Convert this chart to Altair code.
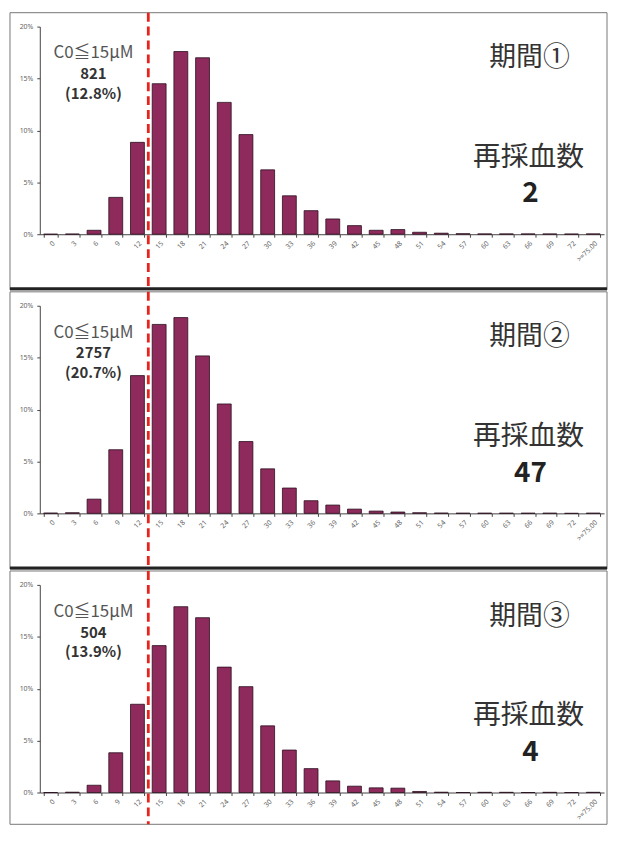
import altair as alt
import pandas as pd

# ---- data ----
categories = ["0", "3", "6", "9", "12", "15", "18", "21", "24", "27", "30", "33", "36",
              "39", "42", "45", "48", "51", "54", "57", "60", "63", "66", "69", "72", ">=75.00"]

period1 = [0, 0.02, 0.38, 3.55, 8.85, 14.5, 17.6, 17.0, 12.7, 9.6, 6.2, 3.7, 2.27,
           1.47, 0.83, 0.38, 0.45, 0.19, 0.1, 0.05, 0.03, 0.03, 0.03, 0.03, 0.02, 0.03]
period2 = [0.03, 0.06, 1.37, 6.13, 13.27, 18.2, 18.86, 15.17, 10.54, 6.92, 4.29, 2.44, 1.22,
           0.8, 0.41, 0.22, 0.13, 0.06, 0.03, 0.02, 0.02, 0.02, 0.02, 0.02, 0.0, 0.02]
period3 = [0, 0.03, 0.7, 3.83, 8.5, 14.15, 17.9, 16.84, 12.08, 10.2, 6.42, 4.09, 2.3,
           1.12, 0.61, 0.45, 0.42, 0.1, 0.03, 0, 0.02, 0.02, 0, 0.02, 0, 0.02]

period_titles = ["期間①", "期間②", "期間③"]
low_counts = ["821", "2757", "504"]
low_pcts = ["(12.8%)", "(20.7%)", "(13.9%)"]
redraw_counts = ["2", "47", "4"]
threshold_label = "C0≦15μM"
redraw_label = "再採血数"
cutoff_category = "15"

# ---- layout ----
W = 568
H = 209
PI = 0.36
STEP = W / len(categories)
BAR_FILL = "#8e2a5c"
CJK = "Noto Sans CJK JP"


def x_enc():
    return alt.X("cat:N", sort=categories,
                 scale=alt.Scale(paddingInner=PI, paddingOuter=PI / 2),
                 axis=alt.Axis(title=None, labelAngle=-45, labelFontSize=7, labelColor="#666",
                               tickBand="extent", tickSize=3, tickColor="#444",
                               domainColor="#444", labelPadding=2, labelFont="Noto Sans"))


def panel(values, title, count, pct, redraw, bottom, thick):
    df = pd.DataFrame({"cat": categories, "pct": values})
    base = alt.Chart(df)

    y = alt.Y("pct:Q", scale=alt.Scale(domain=[0, 20]),
              axis=alt.Axis(title=None, values=[0, 5, 10, 15, 20],
                            labelExpr="datum.value + '%'", labelFontSize=7,
                            labelColor="#666", grid=False, tickSize=3, tickColor="#444",
                            domainColor="#444", labelPadding=4, labelFont="Noto Sans"))

    border = alt.Chart(pd.DataFrame({"b": [0]})).mark_rect(
        fill="transparent", stroke="#777", strokeWidth=1
    ).encode(x=alt.value(-30), x2=alt.value(W + 3), y=alt.value(-14), y2=alt.value(H + bottom))

    bars = base.mark_bar(color=BAR_FILL, stroke="#2b1020", strokeWidth=0.8).encode(x=x_enc(), y=y)

    layers = [border, bars]

    if thick:
        layers.append(
            alt.Chart(pd.DataFrame({"b": [0]})).mark_rule(color="#222", strokeWidth=3).encode(
                x=alt.value(-30), x2=alt.value(W + 3), y=alt.value(H + bottom - 1))
        )

    cutoff = alt.Chart(pd.DataFrame({"cat": [cutoff_category]})).mark_rule(
        color="#e8231e", strokeWidth=2.8, strokeDash=[9, 5], xOffset=-STEP * PI / 2
    ).encode(x=alt.X("cat:N", sort=categories, bandPosition=0),
             y=alt.value(-14), y2=alt.value(H + bottom))
    layers.append(cutoff)

    def txt(s, xp, yp, size, weight="normal", color="#444", font=CJK):
        return alt.Chart(pd.DataFrame({"t": [s]})).mark_text(
            fontSize=size, fontWeight=weight, color=color, font=font, align="center",
            baseline="middle"
        ).encode(x=alt.value(xp), y=alt.value(yp), text="t:N")

    layers += [
        txt(threshold_label, 54, 27, 17, color="#555"),
        txt(count, 54, 48, 15, "bold", "#333"),
        txt(pct, 54, 68, 15, "bold", "#333"),
        txt(title, 493, 32, 27, color="#333"),
        txt(redraw_label, 492, 132, 28, color="#333"),
        txt(redraw, 494, 169, 28, "bold", "#222"),
    ]

    return alt.layer(*layers).properties(width=W, height=H)


c1 = panel(period1, period_titles[0], low_counts[0], low_pcts[0], redraw_counts[0], 56, True)
c2 = panel(period2, period_titles[1], low_counts[1], low_pcts[1], redraw_counts[1], 56, True)
c3 = panel(period3, period_titles[2], low_counts[2], low_pcts[2], redraw_counts[2], 32, False)

chart = alt.vconcat(c1, c2, c3, spacing=72, bounds="flush").properties(
    padding={"top": 0, "left": 0, "right": 0, "bottom": 0}
).resolve_scale(x="independent", y="independent").configure_view(strokeWidth=0)

chart.save("out.html", embed_options={"renderer": "svg", "actions": False})
